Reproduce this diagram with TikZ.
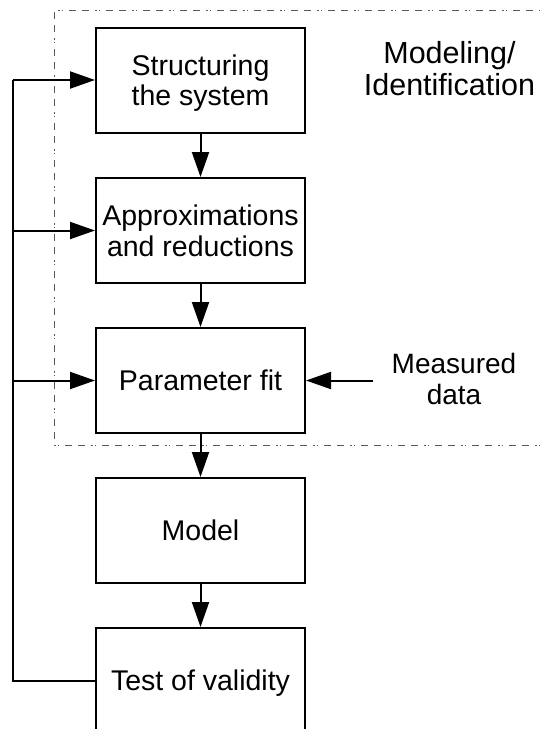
\documentclass[tikz,border=0pt]{standalone}
\usepackage{fontspec}
\setmainfont{Liberation Sans}
\usetikzlibrary{arrows.meta}
\begin{document}
\begin{tikzpicture}[x=1pt,y=-1pt,
  blk/.style={draw, line width=2pt, minimum width=209pt, minimum height=105pt,
    inner sep=0pt, text depth=0pt, align=center, font=\fontsize{28.5}{30.5}\selectfont},
  conn/.style={line width=2pt, -{Triangle[length=25pt,width=17pt]}},
  wire/.style={line width=2pt, line join=miter},
  lbl/.style={align=center, inner sep=0pt, font=\fontsize{28}{31}\selectfont},
  frame/.style={draw=black!65, line width=1pt,
    dash pattern=on 7pt off 6pt on 7pt off 6pt on 1.5pt off 2pt on 1.5pt off 6pt}]
\useasboundingbox (0,0) rectangle (540,729);
\clip (0,0) rectangle (540,729);
% dashed frame
\draw[frame] (570,10) -- (54,10) -- (54,445) -- (570,445);
% blocks
\node[blk] (struct) at (200.5,80)  {Structuring\\the system};
\node[blk] (approx) at (200.5,230.5) {Approximations\\and reductions};
\node[blk] (fit)    at (200.5,380.5) {Parameter fit};
\node[blk] (model)  at (200.5,530.5) {Model};
\node[blk] (test)   at (200.5,680.5) {Test of validity};
% labels
\node[lbl, font=\fontsize{30.5}{32}\selectfont] (modid) at (449.5,68.5) {Modeling/\\Identification};
\node[lbl] (meas)  at (454,378.6) {Measured\\data};
% forward arrows
\draw[conn] (struct) -- (approx);
\draw[conn] (approx) -- (fit);
\draw[conn] (fit) -- (model);
\draw[conn] (model) -- (test);
% measured data input
\coordinate (mdin) at (373,380.5);
\draw[conn] (mdin) -- (fit.east);
% feedback rail
\coordinate (rail) at (13,0);
\draw[wire] (test.west) -| (rail |- struct.west);
\draw[conn] (rail |- struct.west) -- (struct.west);
\draw[conn] (rail |- approx.west) -- (approx.west);
\draw[conn] (rail |- fit.west) -- (fit.west);
\end{tikzpicture}
\end{document}
